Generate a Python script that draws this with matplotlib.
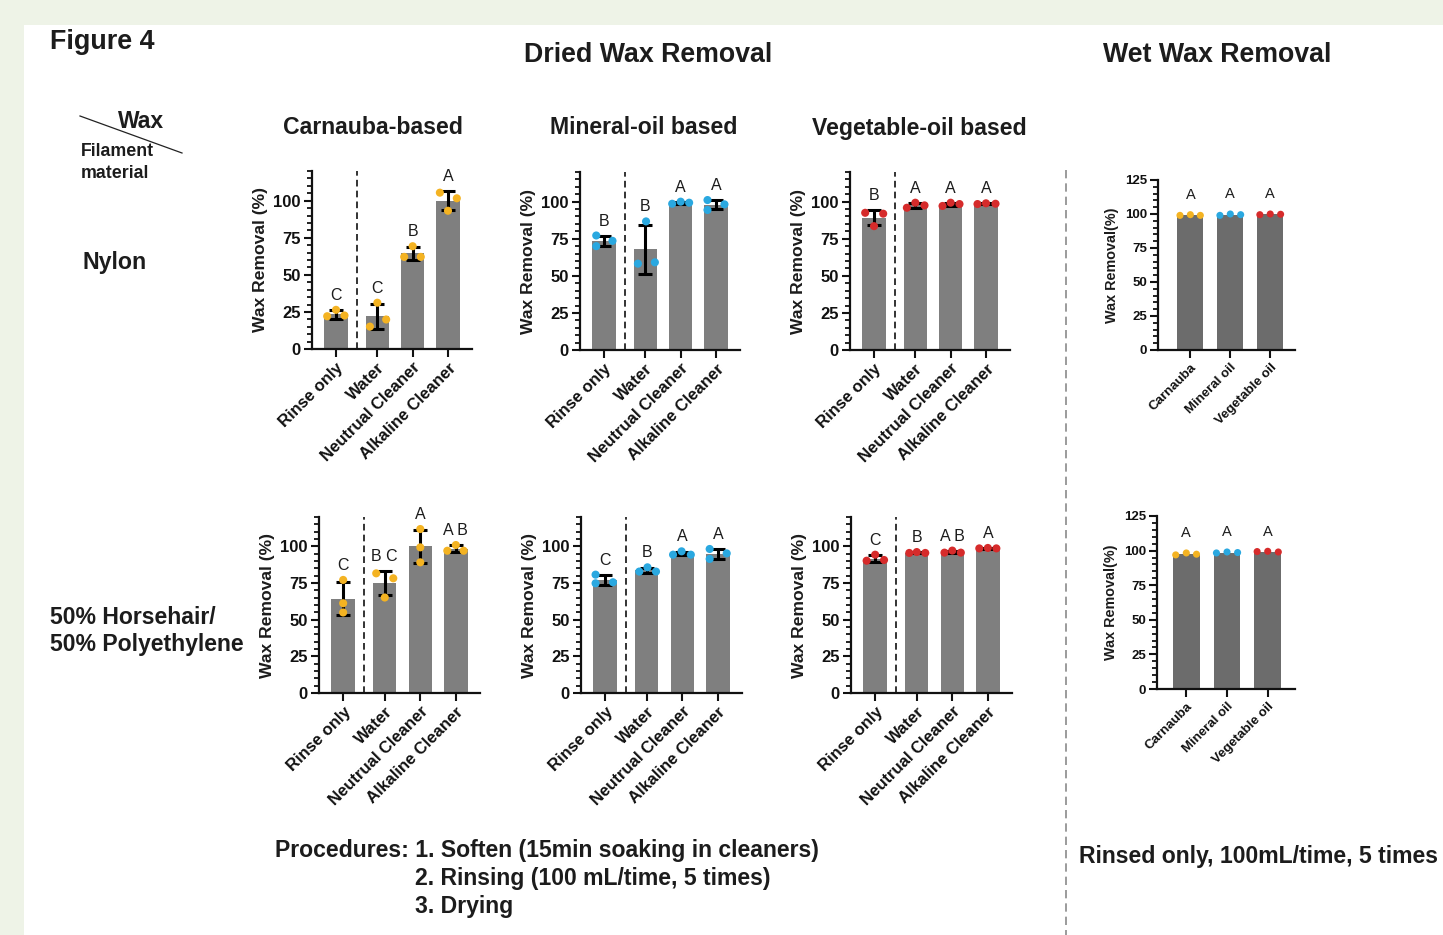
import matplotlib
matplotlib.use("Agg")
import matplotlib.pyplot as plt
from matplotlib.ticker import MultipleLocator
from matplotlib.patches import Rectangle
from matplotlib.lines import Line2D

plt.rcParams['font.family'] = ['Liberation Sans', 'DejaVu Sans']
plt.rcParams['font.weight'] = 'bold'
plt.rcParams['axes.labelweight'] = 'bold'

# ---------------- data ----------------
dried_categories = ["Rinse only", "Water", "Neutrual Cleaner", "Alkaline Cleaner"]
wet_categories = ["Carnauba", "Mineral oil", "Vegetable oil"]

# Nylon
nylon_carnauba_mean = [23.5, 22.0, 64.5, 100.0]
nylon_carnauba_sd = [3.0, 8.5, 4.5, 6.5]
nylon_carnauba_pts = [[22.1, 26.4, 22.6], [15.1, 31.2, 19.9], [62.1, 69.3, 62.1], [105.4, 93.2, 101.6]]
nylon_carnauba_letters = ["C", "C", "B", "A"]

nylon_mineral_mean = [73.5, 67.8, 99.2, 97.9]
nylon_mineral_sd = [3.2, 16.3, 0.9, 3.0]
nylon_mineral_pts = [[77.2, 70.0, 73.6], [58.2, 86.7, 59.1], [98.6, 100.0, 99.3], [101.1, 94.4, 98.2]]
nylon_mineral_letters = ["B", "B", "A", "A"]

nylon_vegetable_mean = [89.3, 97.6, 98.3, 98.6]
nylon_vegetable_sd = [5.0, 1.6, 1.0, 0.3]
nylon_vegetable_pts = [[92.5, 83.5, 91.9], [95.9, 99.3, 97.5], [97.1, 99.3, 98.4], [98.4, 98.9, 98.6]]
nylon_vegetable_letters = ["B", "A", "A", "A"]

# 50% Horsehair / 50% Polyethylene
hp_carnauba_mean = [64.4, 75.0, 100.0, 98.3]
hp_carnauba_sd = [11.5, 8.5, 11.3, 2.3]
hp_carnauba_pts = [[77.1, 61.2, 54.9], [81.6, 78.2, 65.1], [111.8, 99.3, 89.1], [97.0, 100.9, 97.0]]
hp_carnauba_letters = ["C", "B C", "A", "A B"]

hp_mineral_mean = [77.0, 83.8, 95.1, 95.0]
hp_mineral_sd = [3.3, 1.7, 1.3, 3.4]
hp_mineral_pts = [[80.7, 74.8, 75.5], [82.8, 85.7, 82.8], [94.3, 96.6, 94.3], [98.2, 91.4, 95.2]]
hp_mineral_letters = ["C", "B", "A", "A"]

hp_vegetable_mean = [91.7, 95.7, 96.2, 98.7]
hp_vegetable_sd = [2.3, 0.4, 0.8, 0.2]
hp_vegetable_pts = [[90.2, 94.3, 90.7], [95.5, 96.1, 95.5], [95.7, 97.1, 95.7], [98.6, 98.9, 98.6]]
hp_vegetable_letters = ["C", "B", "A B", "A"]

# Wet wax removal
wet_nylon_mean = [99.2, 99.5, 99.8]
wet_nylon_pts = [[99.0, 99.5, 99.0], [99.0, 100.0, 99.5], [99.5, 100.0, 99.8]]
wet_nylon_letters = ["A", "A", "A"]

wet_hp_mean = [97.5, 98.6, 99.3]
wet_hp_pts = [[96.9, 98.3, 97.4], [98.3, 99.0, 98.6], [99.3, 99.5, 99.0]]
wet_hp_letters = ["A", "A", "A"]

# ---------------- styling / layout ----------------
ORANGE = "#F4B322"
BLUE = "#2AA8E0"
RED = "#D62B2B"
BAR_DRY = "#7F7F7F"
BAR_WET = "#6C6C6C"
TXT = "#1C1C1C"

W, H = 1443, 935
fig = plt.figure(figsize=(W / 100, H / 100), dpi=100)
fig.patch.set_facecolor("#EEF3E7")
fig.patches.append(Rectangle((24 / W, 0), 1 - 24 / W, 1 - 25 / H, transform=fig.transFigure,
                             facecolor="white", edgecolor="none", zorder=-10))


def ax_px(left, bottom, right, top):
    ax = fig.add_axes([left / W, 1 - bottom / H, (right - left) / W, (bottom - top) / H])
    ax.set_zorder(5)
    return ax


def ftext(x, y, s, **kw):
    kw.setdefault("color", TXT)
    kw.setdefault("va", "center")
    fig.text(x / W, 1 - y / H, s, **kw)


dried_pos = [0, 1.17, 2.17, 3.17]
dried_jitter = {
    "nc": [[-0.25, 0, 0.24], [-0.21, 0, 0.25], [-0.24, 0, 0.23], [-0.23, 0, 0.25]],
    "nm": [[-0.22, -0.22, 0.24], [-0.21, 0.02, 0.27], [-0.24, 0, 0.24], [-0.24, -0.24, 0.24]],
    "nv": [[-0.25, 0, 0.26], [-0.24, 0, 0.26], [-0.23, 0, 0.25], [-0.24, 0, 0.27]],
    "hc": [[0, 0, 0], [-0.24, 0.24, 0], [0, 0, 0], [-0.24, 0, 0.22]],
    "hm": [[-0.27, -0.27, 0.22], [-0.21, 0.02, 0.26], [-0.26, -0.02, 0.24], [-0.23, -0.23, 0.25]],
    "hv": [[-0.24, 0, 0.25], [-0.21, 0, 0.24], [-0.22, 0, 0.24], [-0.24, 0, 0.24]],
}
wet_jitter = [[-0.26, 0, 0.25], [-0.26, 0, 0.26], [-0.26, 0, 0.26]]


def style_axis(ax, ymax, major, lab_size, tick_size, ylabel, ylab_size, labelpad):
    for s in ["top", "right"]:
        ax.spines[s].set_visible(False)
    for s in ["left", "bottom"]:
        ax.spines[s].set_linewidth(1.6)
        ax.spines[s].set_color("#111111")
    ax.set_ylim(0, ymax)
    ax.yaxis.set_major_locator(MultipleLocator(major))
    ax.yaxis.set_minor_locator(MultipleLocator(5))
    ax.tick_params(axis="y", which="major", length=6, width=1.5, labelsize=tick_size, pad=2, colors="#111111")
    ax.tick_params(axis="y", which="minor", length=3.5, width=1.3, colors="#111111")
    ax.tick_params(axis="x", which="major", length=6, width=1.5, labelsize=lab_size, pad=2, colors="#111111")
    ax.set_ylabel(ylabel, fontsize=ylab_size, color=TXT, labelpad=labelpad)
    ax.set_facecolor("none")


def dried_panel(rect, mean, sd, pts, letters, color, jit):
    ax = ax_px(*rect)
    ax.bar(dried_pos, mean, width=0.66, color=BAR_DRY, zorder=1)
    ax.errorbar(dried_pos, mean, yerr=sd, fmt="none", ecolor="black", elinewidth=2.2,
                capsize=5, capthick=2.2, zorder=3)
    for i, (p, ys) in enumerate(zip(dried_pos, pts)):
        xs = [p + j for j in jit[i]]
        ax.scatter(xs, ys, s=34, color=color, edgecolors="none", zorder=4, clip_on=False)
        top = max(mean[i] + sd[i], max(ys))
        ax.annotate(letters[i], (p, top), xytext=(0, 5), textcoords="offset points",
                    ha="center", va="bottom", fontsize=11.5, fontweight="normal", color=TXT)
    ax.axvline(0.585, color="#111111", lw=1.2, ls=(0, (4, 2.5)), zorder=2)
    ax.set_xlim(-0.68, 3.85)
    ax.set_xticks(dried_pos)
    ax.set_xticklabels(dried_categories, rotation=45, ha="right", rotation_mode="anchor")
    style_axis(ax, 120, 25, 12, 12, "Wax Removal (%)", 12.6, 4)
    return ax


def wet_panel(rect, mean, pts, letters, xlim):
    ax = ax_px(*rect)
    pos = list(range(len(mean)))
    ax.bar(pos, mean, width=0.65, color=BAR_WET, zorder=1)
    cols = [ORANGE, BLUE, RED]
    for i, (p, ys) in enumerate(zip(pos, pts)):
        xs = [p + j for j in wet_jitter[i]]
        ax.scatter(xs, ys, s=26, color=cols[i], edgecolors="none", zorder=4)
        ax.annotate(letters[i], (p, max(ys)), xytext=(0, 9), textcoords="offset points",
                    ha="center", va="bottom", fontsize=10.5, fontweight="normal", color=TXT)
    ax.set_xlim(*xlim)
    ax.set_xticks(pos)
    ax.set_xticklabels(wet_categories, rotation=45, ha="right", rotation_mode="anchor")
    style_axis(ax, 125, 25, 9.5, 9.5, "Wax Removal(%)", 10.4, 4)
    return ax


# Row 1 (Nylon)
dried_panel((312, 349, 472, 171), nylon_carnauba_mean, nylon_carnauba_sd, nylon_carnauba_pts,
            nylon_carnauba_letters, ORANGE, dried_jitter["nc"])
dried_panel((580, 350, 740, 172), nylon_mineral_mean, nylon_mineral_sd, nylon_mineral_pts,
            nylon_mineral_letters, BLUE, dried_jitter["nm"])
dried_panel((850, 350, 1010, 172), nylon_vegetable_mean, nylon_vegetable_sd, nylon_vegetable_pts,
            nylon_vegetable_letters, RED, dried_jitter["nv"])
wet_panel((1158, 350, 1295, 180), wet_nylon_mean, wet_nylon_pts, wet_nylon_letters, (-0.81, 2.62))

# Row 2 (Horsehair / Polyethylene)
dried_panel((319, 693, 480, 517), hp_carnauba_mean, hp_carnauba_sd, hp_carnauba_pts,
            hp_carnauba_letters, ORANGE, dried_jitter["hc"])
dried_panel((581, 693, 742, 517), hp_mineral_mean, hp_mineral_sd, hp_mineral_pts,
            hp_mineral_letters, BLUE, dried_jitter["hm"])
dried_panel((851, 693, 1012, 517), hp_vegetable_mean, hp_vegetable_sd, hp_vegetable_pts,
            hp_vegetable_letters, RED, dried_jitter["hv"])
wet_panel((1157, 689, 1295, 516), wet_hp_mean, wet_hp_pts, wet_hp_letters, (-0.72, 2.67))

# ---------------- annotations ----------------
ftext(50, 42, "Figure 4", fontsize=19.4, ha="left")
ftext(648, 55, "Dried Wax Removal", fontsize=19.3, ha="center")
ftext(1217, 55, "Wet Wax Removal", fontsize=19.3, ha="center")
ftext(373, 128, "Carnauba-based", fontsize=16.6, ha="center")
ftext(644, 128, "Mineral-oil based", fontsize=16.6, ha="center")
ftext(919, 128, "Vegetable-oil based", fontsize=16.6, ha="center")

ftext(118, 121, "Wax", fontsize=16.5, ha="left")
ftext(81, 152, "Filament", fontsize=12.8, ha="left")
ftext(81, 173, "material", fontsize=12.8, ha="left")
fig.add_artist(Line2D([80 / W, 182 / W], [1 - 116 / H, 1 - 153 / H], transform=fig.transFigure,
                      color="#222222", lw=0.9))

ftext(82, 263, "Nylon", fontsize=16.7, ha="left")
ftext(50, 617, "50% Horsehair/", fontsize=16.6, ha="left")
ftext(50, 645, "50% Polyethylene", fontsize=16.6, ha="left")

ftext(275, 851, "Procedures: 1. Soften (15min soaking in cleaners)", fontsize=16.6, ha="left")
ftext(415, 879, "2. Rinsing (100 mL/time, 5 times)", fontsize=16.6, ha="left")
ftext(415, 907, "3. Drying", fontsize=16.6, ha="left")
ftext(1079, 856, "Rinsed only, 100mL/time, 5 times", fontsize=16.6, ha="left")

fig.add_artist(Line2D([1066 / W, 1066 / W], [1 - 170 / H, 0], transform=fig.transFigure,
                      color="#8A8A8A", lw=1.2, ls=(0, (5, 3))))

fig.savefig("out.png", dpi=100, facecolor=fig.get_facecolor())
